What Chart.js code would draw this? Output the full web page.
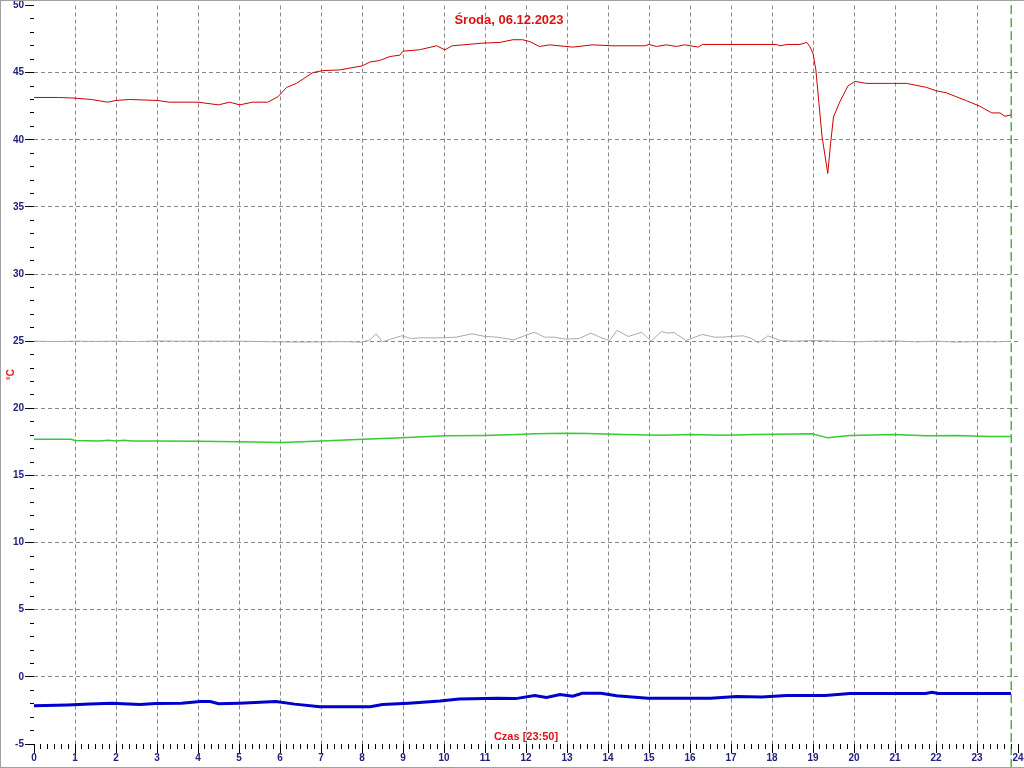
<!DOCTYPE html>
<html>
<head>
<meta charset="utf-8">
<title>Środa, 06.12.2023</title>
<script src="https://cdn.jsdelivr.net/npm/chart.js@4"></script>
<style>
  body { margin: 0; background: #fff; }
  #wrap { position: relative; width: 1024px; height: 768px; }
  #frame { position: absolute; left: 0; top: 0; width: 1023px; height: 766px;
           border-left: 1px solid #a0a0a0; border-top: 1px solid #a0a0a0; border-bottom: 1px solid #a0a0a0;
           pointer-events: none; }
</style>
</head>
<body>
<div id="wrap">
  <canvas id="wykres" width="1024" height="768"></canvas>
  <div id="frame"></div>
</div>
<script>
// godziny (x) i temperatury (y)
let redHours = [0, 0.6, 1.0, 1.4, 1.8, 2.0, 2.33, 3.0, 3.3, 4.0, 4.5, 4.77, 5.02, 5.33, 5.7, 5.95, 6.16, 6.4, 6.8, 7.04, 7.45, 8.0, 8.2, 8.43, 8.68, 8.92, 9.0, 9.4, 9.82, 10.02, 10.2, 10.95, 11.36, 11.68, 11.92, 12.1, 12.33, 12.58, 13.14, 13.63, 14.1, 14.9, 15.0, 15.18, 15.42, 15.67, 15.87, 16.2, 16.31, 18.1, 18.2, 18.36, 18.68, 18.85, 18.92, 19.0, 19.07, 19.22, 19.36, 19.43, 19.5, 19.65, 19.85, 20.02, 20.3, 20.94, 21.28, 21.77, 22.0, 22.25, 22.75, 23.07, 23.36, 23.56, 23.68, 23.83];
let redTemps = [43.15, 43.15, 43.1, 43.0, 42.8, 42.93, 43.0, 42.93, 42.8, 42.8, 42.6, 42.8, 42.6, 42.8, 42.8, 43.2, 43.9, 44.2, 45.0, 45.15, 45.2, 45.5, 45.8, 45.9, 46.2, 46.3, 46.6, 46.7, 47.0, 46.7, 47.0, 47.2, 47.25, 47.45, 47.45, 47.3, 46.95, 47.07, 46.9, 47.07, 47.0, 47.0, 47.1, 46.95, 47.07, 46.95, 47.07, 46.9, 47.1, 47.1, 47.0, 47.1, 47.1, 47.25, 46.95, 46.45, 45.2, 40.25, 37.5, 39.75, 41.7, 42.8, 44.0, 44.35, 44.2, 44.2, 44.2, 43.9, 43.65, 43.5, 42.9, 42.5, 42.0, 42.0, 41.75, 41.85];

let grayHours = [0, 0.5, 1, 1.5, 2, 2.5, 3, 3.5, 4, 5, 6, 6.5, 7, 7.5, 8, 8.2, 8.34, 8.5, 8.7, 8.97, 9.2, 9.43, 9.9, 10.3, 10.68, 11.0, 11.3, 11.7, 12.2, 12.45, 12.68, 12.97, 13.3, 13.58, 13.8, 14.04, 14.22, 14.5, 14.65, 14.82, 15.05, 15.3, 15.45, 15.61, 15.9, 16.3, 16.6, 16.8, 17.0, 17.3, 17.5, 17.67, 17.9, 18.2, 18.5, 19, 19.5, 20, 20.5, 21, 21.5, 22, 22.5, 23, 23.5, 23.83];
let grayTemps = [25.0, 24.97, 25.0, 24.98, 25.0, 24.97, 25.02, 25.0, 25.0, 25.0, 24.95, 24.93, 24.95, 24.97, 24.93, 25.1, 25.55, 24.95, 25.15, 25.4, 25.2, 25.25, 25.25, 25.3, 25.55, 25.35, 25.3, 25.1, 25.67, 25.3, 25.3, 25.15, 25.2, 25.6, 25.3, 25.05, 25.8, 25.35, 25.5, 25.67, 25.0, 25.72, 25.6, 25.65, 25.05, 25.5, 25.3, 25.3, 25.35, 25.4, 25.2, 24.88, 25.4, 25.05, 25.0, 25.05, 25.0, 24.95, 25.0, 25.02, 24.95, 25.0, 24.93, 24.97, 24.95, 25.0];

let greenHours = [0, 0.9, 1.0, 1.59, 1.8, 2.0, 2.2, 2.4, 3.0, 4.0, 5.0, 6.05, 7.0, 8.04, 8.97, 10.04, 10.97, 11.8, 12.2, 12.97, 13.5, 14.36, 15.3, 16.0, 16.82, 17.6, 18.98, 19.36, 19.9, 20.97, 21.75, 22.5, 23.3, 23.83];
let greenTemps = [17.69, 17.69, 17.6, 17.56, 17.62, 17.56, 17.63, 17.56, 17.56, 17.55, 17.51, 17.46, 17.56, 17.7, 17.8, 17.96, 17.98, 18.05, 18.1, 18.15, 18.12, 18.05, 18.0, 18.05, 18.0, 18.05, 18.1, 17.8, 17.98, 18.05, 17.96, 17.98, 17.9, 17.9];

let blueHours = [0, 0.82, 1.36, 1.9, 2.58, 2.97, 3.6, 4.05, 4.3, 4.5, 5.0, 5.9, 6.36, 6.97, 8.2, 8.5, 9.14, 9.9, 10.37, 11.3, 11.75, 12.21, 12.5, 12.83, 13.14, 13.37, 13.83, 14.21, 14.97, 16.5, 17.14, 17.75, 18.36, 19.3, 19.9, 21.75, 21.9, 22.06, 23.83];
let blueTemps = [-2.16, -2.1, -2.03, -1.96, -2.06, -1.98, -1.96, -1.84, -1.84, -2.0, -1.96, -1.84, -2.03, -2.23, -2.23, -2.06, -1.96, -1.79, -1.64, -1.59, -1.62, -1.39, -1.53, -1.31, -1.44, -1.22, -1.22, -1.41, -1.59, -1.59, -1.47, -1.5, -1.39, -1.39, -1.24, -1.24, -1.14, -1.24, -1.24];

// znacznik aktualnej godziny 23:50
let nowHour = 23 + 50 / 60;
let nowLineTemps = [-6.8, 50.4];

let yMin = -5, yMax = 50;
let xMin = 0, xMax = 24;

function punkty(hours, temps) {
  return hours.map((h, i) => ({ x: h, y: temps[i] }));
}

const navy = '#202080';
const czerwony = '#dd1111';
const siatka = '#888888';

Chart.defaults.font.family = "'Liberation Sans', Arial, sans-serif";

new Chart(document.getElementById('wykres'), {
  type: 'line',
  data: {
    datasets: [
      { data: punkty(blueHours, blueTemps), borderColor: '#0000cc', borderWidth: 3 },
      { data: punkty(greenHours, greenTemps), borderColor: '#33cc33', borderWidth: 1.5 },
      { data: punkty(grayHours, grayTemps), borderColor: '#aaaaaa', borderWidth: 1 },
      { data: punkty(redHours, redTemps), borderColor: '#cc0000', borderWidth: 1 },
      { data: nowLineTemps.map(t => ({ x: nowHour, y: t })), borderColor: '#008000', borderWidth: 1, borderDash: [9, 4], clip: false }
    ]
  },
  options: {
    responsive: false,
    devicePixelRatio: 1,
    animation: false,
    parsing: false,
    elements: { point: { radius: 0 }, line: { tension: 0 } },
    layout: { padding: { left: 0, right: 6, top: 0, bottom: 0 } },
    plugins: {
      legend: { display: false },
      tooltip: { enabled: false },
      title: {
        display: true,
        text: 'Środa, 06.12.2023',
        color: czerwony,
        font: { size: 13, weight: 'bold' },
        padding: { top: 11, bottom: -22.5 }
      }
    },
    scales: {
      x: {
        type: 'linear', position: 'bottom', weight: 2,
        min: xMin, max: xMax,
        ticks: { stepSize: 1, autoSkip: false, maxRotation: 0, padding: 0, color: navy,
                 font: { size: 10, weight: 'bold', lineHeight: 1 } },
        grid: {
          color: c => (c.tick && (c.tick.value === xMin || c.tick.value === xMax)) ? 'rgba(0,0,0,0)' : siatka,
          tickColor: '#000', tickLength: 9, tickWidth: 1, tickBorderDash: []
        },
        border: { display: false, dash: [4, 3] },
        title: { display: true, text: 'Czas [23:50]', color: czerwony,
                 font: { size: 11, weight: 'bold' }, padding: { top: 0, bottom: 24 } },
        afterFit: s => { s.height = 24; }
      },
      xMinor: {
        type: 'linear', position: 'bottom', weight: 1,
        min: 0, max: 144,
        ticks: { display: false, stepSize: 1 },
        grid: { drawOnChartArea: false, tickColor: '#000', tickLength: 5, tickWidth: 1 },
        border: { display: false },
        afterFit: s => { s.height = 0; }
      },
      y: {
        type: 'linear', position: 'left', weight: 2,
        min: yMin, max: yMax,
        ticks: { stepSize: 5, padding: 1, color: navy,
                 font: { size: 10, weight: 'bold', lineHeight: 0.9 } },
        grid: {
          color: c => (c.tick && (c.tick.value === yMin || c.tick.value === yMax)) ? 'rgba(0,0,0,0)' : siatka,
          tickColor: '#000', tickLength: 9, tickWidth: 1, tickBorderDash: []
        },
        border: { display: false, dash: [4, 3] },
        title: { display: true, text: '°C', color: czerwony,
                 font: { size: 10, weight: 'bold' }, padding: { top: 5, bottom: 0 } },
        afterFit: s => { s.width = 34; }
      },
      yMinor: {
        type: 'linear', position: 'left', weight: 1,
        min: yMin, max: yMax,
        ticks: { display: false, stepSize: 1 },
        grid: { drawOnChartArea: false, tickColor: '#000', tickLength: 4, tickWidth: 1 },
        border: { display: false },
        afterFit: s => { s.width = 0; }
      }
    }
  }
});
</script>
</body>
</html>
